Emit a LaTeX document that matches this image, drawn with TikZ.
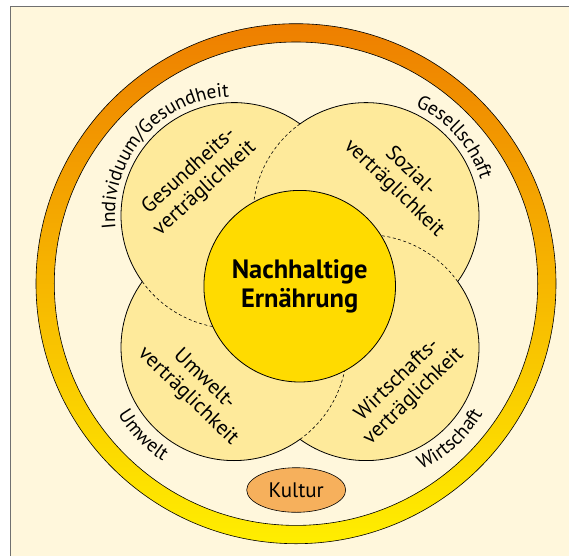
\documentclass[tikz,border=0pt]{standalone}
\usepackage{fontspec}
\setmainfont{PT Sans}
\usetikzlibrary{decorations.text,shapes.geometric}
\definecolor{bgcream}{HTML}{FFF7DC}
\definecolor{framegray}{HTML}{707070}
\definecolor{ringtop}{HTML}{EE7F00}
\definecolor{ringmid}{HTML}{FBB800}
\definecolor{ringbot}{HTML}{FFEE00}
\definecolor{petalfill}{HTML}{FEEA9B}
\definecolor{corefill}{HTML}{FFDB00}
\definecolor{kulturfill}{HTML}{F6B05C}
\newcommand\ringfont{\fontsize{19.5}{22}\selectfont}

\begin{document}
\begin{tikzpicture}[x=1pt,y=1pt,
        petal/.style={fill=petalfill},
        petalline/.style={line width=0.8pt},
        seam/.style={line width=0.6pt, dash pattern=on 3pt off 2.5pt},
        core/.style={circle, draw, line width=0.8pt, fill=corefill, minimum size=191.6pt, inner sep=0pt,
            align=center, font=\fontsize{26.5}{29}\selectfont\bfseries},
        petaltext/.style={align=center, inner sep=0pt, font=\fontsize{21}{23.5}\selectfont},
        kultur/.style={ellipse, draw, line width=0.6pt, fill=kulturfill, minimum width=99pt,
            minimum height=44.6pt, inner sep=0pt, font=\fontsize{21}{24}\selectfont},
        ringlabel/.style={decorate, decoration={text along path, text align=center, text={#1}}}]
            \clip (-296,-271.3) rectangle (273,283.7);
            \fill[white] (-296,-271.3) rectangle (273,283.7);
            \filldraw[fill=bgcream, draw=framegray, line width=1pt] (-285,277) rectangle (300,-300);
            \shade[top color=ringtop, middle color=ringmid, bottom color=ringbot, even odd rule]
                (0,0) circle[radius=260pt] circle[radius=241.7pt];
            \draw[line width=0.6pt] (0,0) circle[radius=260pt] (0,0) circle[radius=241.7pt];

            \coordinate (p_tl) at (-62,68.1);
            \coordinate (p_tr) at (70,68.1);
            \coordinate (p_bl) at (-62,-63.9);
            \coordinate (p_br) at (70,-63.9);
            \fill[petal] (p_tl) circle[radius=113pt];
            \fill[petal] (p_tr) circle[radius=113pt];
            \fill[petal] (p_bl) circle[radius=113pt];
            \fill[petal] (p_br) circle[radius=113pt];
            \draw[petalline, shift={(p_tl)}] (54.25:113pt) arc[start angle=54.25, end angle=215.75, radius=113pt];
            \draw[petalline, shift={(p_tr)}] (-35.75:113pt) arc[start angle=-35.75, end angle=125.75, radius=113pt];
            \draw[petalline, shift={(p_bl)}] (144.25:113pt) arc[start angle=144.25, end angle=305.75, radius=113pt];
            \draw[petalline, shift={(p_br)}] (234.25:113pt) arc[start angle=234.25, end angle=395.75, radius=113pt];
            \draw[seam, shift={(p_tr)}] (125.75:113pt) arc[start angle=125.75, end angle=185, radius=113pt];
            \draw[seam, shift={(p_tl)}] (215.75:113pt) arc[start angle=215.75, end angle=275, radius=113pt];
            \draw[seam, shift={(p_br)}] (35.75:113pt) arc[start angle=35.75, end angle=95, radius=113pt];
            \draw[seam, shift={(p_bl)}] (-54.25:113pt) arc[start angle=-54.25, end angle=5, radius=113pt];

            \node[core] (core) at (3.7,-2.5) {Nachhaltige\\Ernährung};
            \node[petaltext, rotate=42] (gesund) at (-99,103.7) {Gesundheits-\\verträglichkeit};
            \node[petaltext, rotate=-44] (sozial) at (106,103.7) {Sozial-\\verträglichkeit};
            \node[petaltext, rotate=-44] (umwelt) at (-100,-104.3) {Umwelt-\\verträglichkeit};
            \node[petaltext, rotate=44] (wirtschaft) at (109.5,-104.6) {Wirtschafts-\\verträglichkeit};

            \path[ringlabel={|\ringfont|Individuum/Gesundheit}, shift={(p_tl)}]
                (199.3:119pt) arc[start angle=199.3, end angle=79.3, radius=119pt];
            \path[ringlabel={|\ringfont|Gesellschaft}, shift={(p_tr)}]
                (96.5:120pt) arc[start angle=96.5, end angle=-13.5, radius=120pt];
            \path[ringlabel={|\ringfont|Umwelt}, shift={(p_bl)}]
                (174:134pt) arc[start angle=174, end angle=274, radius=134pt];
            \path[ringlabel={|\ringfont|Wirtschaft}, shift={(p_br)}]
                (262.5:134pt) arc[start angle=262.5, end angle=362.5, radius=134pt];

            \node[kultur] (kultur) at (0.2,-206.3) {Kultur};
        \end{tikzpicture}
\end{document}
